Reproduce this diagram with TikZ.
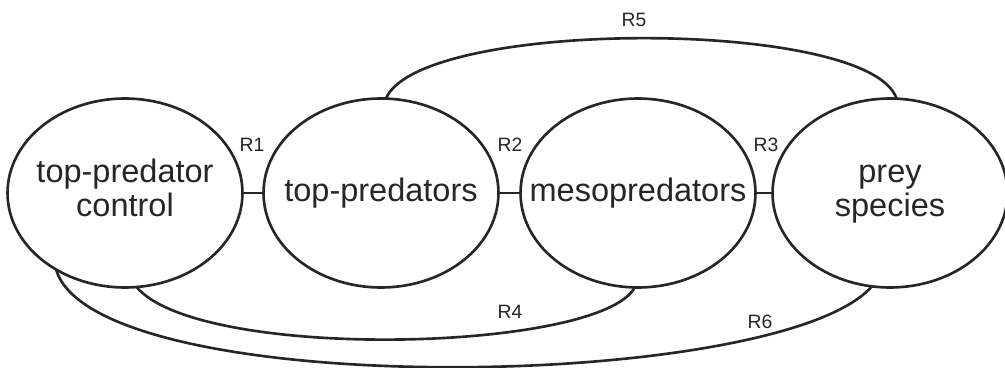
\documentclass[tikz,border=0pt]{standalone}
\usepackage{fontspec}
\setmainfont{Liberation Sans}
\usetikzlibrary{shapes}
\usetikzlibrary{positioning}

\begin{document}
\begin{tikzpicture}[
    x=0.02cm, y=-0.02cm,
    line width=1.5pt,
    draw=black!85, text=black!85
]
\tikzset{
    bubble/.style = {ellipse, draw=black!85, inner sep=0pt, outer sep=0pt,
        minimum width=4.7cm, minimum height=3.78cm,
        font=\fontsize{18.5}{19}\selectfont},
    rlabel/.style = {inner sep=0pt, font=\fontsize{11}{13}\selectfont},
    link/.style = {-, line width=1.5pt}
}
\useasboundingbox (0,0) rectangle (1005,368);
% the four groups
\node[bubble] at (125,193) (tpc) {\makebox[0pt]{\begin{tabular}{@{}c@{}}top-predator\\control\end{tabular}}};
\node[bubble] at (381,193) (tp) {\makebox[0pt]{top-predators}};
\node[bubble] at (638,193) (meso) {\makebox[0pt]{mesopredators}};
\node[bubble] at (890,193) (prey) {\makebox[0pt]{\begin{tabular}{@{}c@{}}prey\\species\end{tabular}}};
% direct links
\draw[link] (tpc.east) -- (tp.west);
\draw[link] (tp.east) -- (meso.west);
\draw[link] (meso.east) -- (prey.west);
% long links
\draw[link] (tp.87) .. controls (420,18) and (870,18) .. (prey.86);
\draw[link] (tpc.-83) .. controls (200,362) and (600,352) .. (meso.-92);
\draw[link] (tpc.228) .. controls (95,402) and (780,392) .. (prey.259);
% labels
\node[rlabel] at (252,145) (r1) {R1};
\node[rlabel] at (510,145) (r2) {R2};
\node[rlabel] at (766,145) (r3) {R3};
\node[rlabel] at (510,312) (r4) {R4};
\node[rlabel] at (760,322) (r6) {R6};
\node[rlabel] at (634,20) (r5) {R5};
\end{tikzpicture}
\end{document}
